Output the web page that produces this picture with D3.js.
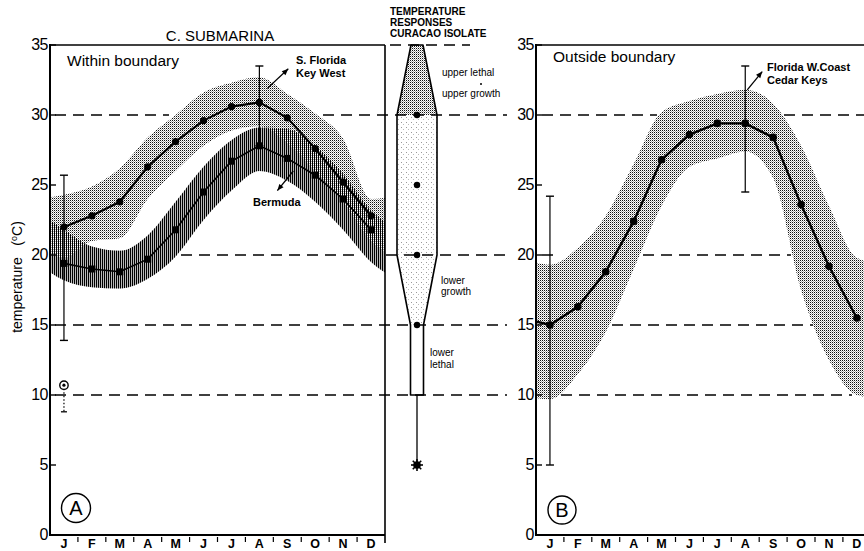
<!DOCTYPE html>
<html>
<head>
<meta charset="utf-8">
<script src="https://cdn.jsdelivr.net/npm/d3@7"></script>
<style>
  body { margin: 0; background: #fff; }
  svg { font-family: "Liberation Sans", Arial, sans-serif; }
</style>
</head>
<body>
<div id="chart"></div>
<script>
////////////////////////////////////////////////////////////////
/////  data (deg C, monthly)  /////////////
////////////////////////////////////////////////////////////////

var months = ['J','F','M','A','M','J','J','A','S','O','N','D']

// panel A, S. Florida / Key West (circles) and its range band
var keyWest   = [22.0, 22.8, 23.8, 26.3, 28.1, 29.6, 30.6, 30.9, 29.8, 27.6, 25.2, 22.8]
var keyWestHi = [24.3, 24.9, 26.2, 28.4, 30.0, 31.6, 32.3, 32.7, 31.5, 30.1, 28.3, 24.0]
var keyWestLo = [19.8, 21.0, 21.2, 24.0, 26.0, 27.8, 28.9, 29.2, 28.0, 26.0, 23.8, 21.0]

// panel A, Bermuda (squares) and its hatched band
var bermuda   = [19.4, 19.0, 18.8, 19.7, 21.8, 24.5, 26.7, 27.8, 26.9, 25.7, 24.0, 21.8]
var bermudaHi = [21.8, 20.6, 20.3, 21.4, 23.8, 26.3, 28.2, 29.1, 29.0, 27.8, 25.8, 23.2]
var bermudaLo = [18.2, 17.7, 17.6, 18.3, 19.9, 22.5, 24.6, 26.0, 25.3, 23.8, 21.8, 19.5]

// panel B, Florida W. Coast / Cedar Keys
var cedarKeys   = [15.0, 16.3, 18.8, 22.4, 26.8, 28.6, 29.4, 29.4, 28.4, 23.6, 19.2, 15.5]
var cedarKeysHi = [19.3, 20.5, 22.8, 26.5, 30.2, 31.0, 31.5, 31.8, 30.8, 27.8, 23.5, 19.8]
var cedarKeysLo = [ 9.7, 11.5, 14.5, 19.0, 23.5, 26.3, 26.9, 27.4, 25.5, 17.5, 12.5, 10.0]

// extreme ranges [month index, max, min]
var rangesA = [[0, 25.7, 13.9], [7, 33.5, 27.8]]
var rangesB = [[0, 24.2, 5.0], [7, 33.5, 24.5]]
var coldRecord = [0, 10.7, 8.8]   // circled point + dotted bar, panel A

// temperature responses, Curacao isolate
var upperLethal = 35, upperGrowth = 30, lowerGrowth = 20, lowerLethal = 15, tolFloor = 10, coldDeath = 5
var curacaoDots = [30, 25, 20, 15]

var yTicks = [0, 5, 10, 15, 20, 25, 30, 35]
var refLines = [30, 20, 15, 10]

////////////////////////////////////////////////////////////////

var W = 864, H = 551
var svg = d3.select('#chart').append('svg').attr('width', W).attr('height', H)
var defs = svg.append('defs')

// stipple (light band)
var p1 = defs.append('pattern').attr('id', 'stip').attr('patternUnits', 'userSpaceOnUse')
  .attr('width', 2).attr('height', 2)
p1.append('rect').attr('width', 2).attr('height', 2).attr('fill', '#fff')
p1.append('rect').attr('width', 1).attr('height', 1).attr('fill', '#111')
p1.append('rect').attr('x', 1).attr('y', 1).attr('width', 1).attr('height', 1).attr('fill', '#aaa')
// vertical hatch (bermuda)
var p2 = defs.append('pattern').attr('id', 'hatch').attr('patternUnits', 'userSpaceOnUse')
  .attr('width', 2).attr('height', 4)
p2.append('rect').attr('width', 1).attr('height', 4).attr('fill', '#000')
// sparse speckle (spindle middle)
var p3 = defs.append('pattern').attr('id', 'speck').attr('patternUnits', 'userSpaceOnUse')
  .attr('width', 5).attr('height', 5)
p3.append('rect').attr('width', 5).attr('height', 5).attr('fill', '#fff')
p3.append('rect').attr('x', 1).attr('y', 2).attr('width', 1).attr('height', 1).attr('fill', '#999')
p3.append('rect').attr('x', 3).attr('y', 4).attr('width', 1).attr('height', 1).attr('fill', '#bbb')

var y = d3.scaleLinear().domain([0, 35]).range([535, 45])
var xA = d3.scaleBand().domain(d3.range(12)).range([50, 385])
var xB = d3.scaleBand().domain(d3.range(12)).range([536, 536 + 12 * 27.9])
var cA = function(i) { return xA(0) + xA.step() * (i + 0.5) }  // also works for wrap indices -1, 12
var cB = function(i) { return xB(0) + xB.step() * (i + 0.5) }

defs.append('clipPath').attr('id', 'clipA').append('rect')
  .attr('x', 50).attr('y', 45).attr('width', 335).attr('height', 490)
defs.append('clipPath').attr('id', 'clipB').append('rect')
  .attr('x', 536).attr('y', 44).attr('width', 340).attr('height', 491)

// wrap the year so bands run to the panel edges
wrap = function(arr) {
  var out = [{i: -1, v: arr[11]}]
  arr.forEach(function(v, i) { out.push({i: i, v: v}) })
  out.push({i: 12, v: arr[0]})
  return out
}
bandData = function(hi, lo) {
  var h = wrap(hi), l = wrap(lo)
  return h.map(function(d, k) { return {i: d.i, hi: d.v, lo: l[k].v} })
}

var areaA = d3.area().curve(d3.curveMonotoneX)
  .x(function(d) { return cA(d.i) }).y0(function(d) { return y(d.lo) }).y1(function(d) { return y(d.hi) })
var areaB = d3.area().curve(d3.curveMonotoneX)
  .x(function(d) { return cB(d.i) }).y0(function(d) { return y(d.lo) }).y1(function(d) { return y(d.hi) })
var bBand = bandData(bermudaHi, bermudaLo)
var kBand = bandData(keyWestHi, keyWestLo)
var cBand = bandData(cedarKeysHi, cedarKeysLo)

/////////////////////  middle column: spindle  /////////////////////
var cx = 417
var spindle = svg.append('g')
var topPoly = [[cx - 6, y(upperLethal)], [cx - 20, y(upperGrowth)], [cx + 20, y(upperGrowth)], [cx + 6, y(upperLethal)]]
var midPoly = [[cx - 20, y(upperGrowth)], [cx - 20, y(lowerGrowth)], [cx - 6.5, y(lowerLethal)],
               [cx + 6.5, y(lowerLethal)], [cx + 20, y(lowerGrowth)], [cx + 20, y(upperGrowth)]]
var lowPoly = [[cx - 6.5, y(lowerLethal)], [cx - 6.5, y(tolFloor)], [cx + 6.5, y(tolFloor)], [cx + 6.5, y(lowerLethal)]]
spindle.append('path').attr('d', 'M' + topPoly.join('L') + 'Z').attr('fill', 'url(#stip)')
spindle.append('path').attr('d', 'M' + midPoly.join('L') + 'Z').attr('fill', 'url(#speck)')
spindle.append('path').attr('d', 'M' + lowPoly.join('L') + 'Z').attr('fill', '#fff')
var outline = [[cx - 6, y(upperLethal)], [cx - 20, y(upperGrowth)], [cx - 20, y(lowerGrowth)], [cx - 6.5, y(lowerLethal)],
  [cx - 6.5, y(tolFloor)], [cx + 6.5, y(tolFloor)], [cx + 6.5, y(lowerLethal)], [cx + 20, y(lowerGrowth)],
  [cx + 20, y(upperGrowth)], [cx + 6, y(upperLethal)]]
spindle.append('path').attr('d', 'M' + outline.join('L') + 'Z')
  .attr('fill', 'none').attr('stroke', '#000').attr('stroke-width', 1.6).attr('stroke-linejoin', 'round')
spindle.append('line').attr('x1', cx).attr('x2', cx).attr('y1', y(tolFloor)).attr('y2', y(coldDeath))
  .attr('stroke', '#000').attr('stroke-width', 1.3)
spindle.selectAll('circle.dot').data(curacaoDots).enter().append('circle')
  .attr('cx', cx).attr('cy', function(d) { return y(d) }).attr('r', 3.2).attr('fill', '#000')
// cold death burst
spindle.append('circle').attr('cx', cx).attr('cy', y(coldDeath)).attr('r', 3.8).attr('fill', '#000')
d3.range(8).forEach(function(k) {
  var a = k * Math.PI / 4
  spindle.append('line').attr('x1', cx).attr('y1', y(coldDeath))
    .attr('x2', cx + 6 * Math.cos(a)).attr('y2', y(coldDeath) + 6 * Math.sin(a))
    .attr('stroke', '#000').attr('stroke-width', 1.6)
})

/////////////////////  panel bands  /////////////////////
var gA = svg.append('g').attr('clip-path', 'url(#clipA)')
gA.append('path').attr('d', areaA(kBand)).attr('fill', '#fff')
gA.append('path').attr('d', areaA(bBand)).attr('fill', '#b8b8b8')
gA.append('path').attr('d', areaA(kBand)).attr('fill', 'url(#stip)')
gA.append('path').attr('d', areaA(bBand)).attr('fill', 'url(#hatch)')

var gB = svg.append('g').attr('clip-path', 'url(#clipB)')
gB.append('path').attr('d', areaB(cBand)).attr('fill', '#fff')
gB.append('path').attr('d', areaB(cBand)).attr('fill', 'url(#stip)')

/////////////////////  dashed reference lines  /////////////////////
// dashes are only drawn where no band lies (strokes end up above fills here)
var interp = function(band, cfn, key, x) {
  for (var k = 0; k < band.length - 1; k++) {
    var xa = cfn(band[k].i), xb = cfn(band[k + 1].i)
    if (x >= xa && x <= xb) return band[k][key] + (band[k + 1][key] - band[k][key]) * (x - xa) / (xb - xa)
  }
  return null
}
var covered = function(band, cfn, x, t) {
  var hi = interp(band, cfn, 'hi', x), lo = interp(band, cfn, 'lo', x)
  return hi != null && t <= hi + 0.35 && t >= lo - 0.35
}
var dashes = svg.append('g').attr('stroke', '#000').attr('stroke-width', 1.5).attr('stroke-dasharray', '11,7')
var runs = function(t, xs, xe, test) {
  var start = null
  for (var x = xs; x <= xe; x++) {
    var free = !test(x)
    if (free && start === null) start = x
    if ((!free || x === xe) && start !== null) {
      var end = free ? x : x - 1
      if (end - start > 2) {
        dashes.append('line').attr('x1', start).attr('x2', end).attr('y1', y(t)).attr('y2', y(t))
      }
      start = null
    }
  }
}
refLines.forEach(function(t) {
  runs(t, 55, 507, function(x) {
    if (x > 385) return false
    return covered(kBand, cA, x, t) || covered(bBand, cA, x, t)
  })
  runs(t, 542, W, function(x) { return covered(cBand, cB, x, t) })
})
dashes.append('line').attr('x1', 390).attr('x2', 470).attr('y1', y(upperLethal)).attr('y2', y(upperLethal))

/////////////////////  panel A lines  /////////////////////
var lineA = d3.line().x(function(d, i) { return cA(i) }).y(function(d) { return y(d) })
var gA2 = svg.append('g').attr('clip-path', 'url(#clipA)')
gA2.append('path').attr('d', lineA(bermuda)).attr('fill', 'none').attr('stroke', '#000').attr('stroke-width', 1.6)
gA2.append('path').attr('d', lineA(keyWest)).attr('fill', 'none').attr('stroke', '#000').attr('stroke-width', 2.2)
gA2.selectAll('rect.sq').data(bermuda).enter().append('rect')
  .attr('x', function(d, i) { return cA(i) - 3.5 }).attr('y', function(d) { return y(d) - 3.5 })
  .attr('width', 7).attr('height', 7).attr('fill', '#000')
gA2.selectAll('circle.kw').data(keyWest).enter().append('circle')
  .attr('cx', function(d, i) { return cA(i) }).attr('cy', function(d) { return y(d) })
  .attr('r', 3.6).attr('fill', '#000')

// range bars
drawRange = function(g, cx_, r) {
  var x = cx_(r[0])
  g.append('line').attr('x1', x).attr('x2', x).attr('y1', y(r[1])).attr('y2', y(r[2]))
    .attr('stroke', '#000').attr('stroke-width', 1.2)
  ;[r[1], r[2]].forEach(function(v) {
    g.append('line').attr('x1', x - 4).attr('x2', x + 4).attr('y1', y(v)).attr('y2', y(v))
      .attr('stroke', '#000').attr('stroke-width', 1.4)
  })
}
rangesA.forEach(function(r) { drawRange(svg, cA, r) })

// cold record, circled with dotted bar
var xc = cA(coldRecord[0])
svg.append('line').attr('x1', xc).attr('x2', xc).attr('y1', y(coldRecord[1])).attr('y2', y(coldRecord[2]))
  .attr('stroke', '#000').attr('stroke-width', 1.2).attr('stroke-dasharray', '1.5,2')
svg.append('line').attr('x1', xc - 3).attr('x2', xc + 3).attr('y1', y(coldRecord[2])).attr('y2', y(coldRecord[2]))
  .attr('stroke', '#000').attr('stroke-width', 1.3)
svg.append('circle').attr('cx', xc).attr('cy', y(coldRecord[1])).attr('r', 4.2)
  .attr('fill', '#fff').attr('stroke', '#000').attr('stroke-width', 1.4)
svg.append('circle').attr('cx', xc).attr('cy', y(coldRecord[1])).attr('r', 1.6).attr('fill', '#000')

/////////////////////  panel B lines  /////////////////////
var gB2 = svg.append('g').attr('clip-path', 'url(#clipB)')
var cedarWrap = wrap(cedarKeys).slice(0, 13)
gB2.append('path').attr('d', d3.line().x(function(d) { return cB(d.i) }).y(function(d) { return y(d.v) })(cedarWrap))
  .attr('fill', 'none').attr('stroke', '#000').attr('stroke-width', 2.4)
gB2.selectAll('circle.ck').data(cedarKeys).enter().append('circle')
  .attr('cx', function(d, i) { return cB(i) }).attr('cy', function(d) { return y(d) })
  .attr('r', 3.8).attr('fill', '#000')
rangesB.forEach(function(r) { drawRange(svg, cB, r) })

/////////////////////  axes and frames  /////////////////////
drawAxes = function(x0, x1, scaleX, boxed) {
  var g = svg.append('g')
  g.append('line').attr('x1', x0).attr('x2', x0).attr('y1', y(35) - 1).attr('y2', y(0) + 1)
    .attr('stroke', '#000').attr('stroke-width', 2)
  g.append('line').attr('x1', x0).attr('x2', x1).attr('y1', y(0)).attr('y2', y(0))
    .attr('stroke', '#000').attr('stroke-width', 2)
  g.append('line').attr('x1', x0).attr('x2', x1).attr('y1', y(35)).attr('y2', y(35))
    .attr('stroke', '#000').attr('stroke-width', 1.6)
  if (boxed) {
    g.append('line').attr('x1', x1).attr('x2', x1).attr('y1', y(35)).attr('y2', y(0) + 8)
      .attr('stroke', '#000').attr('stroke-width', 1.6)
  }
  yTicks.forEach(function(t) {
    g.append('line').attr('x1', x0).attr('x2', x0 + 6).attr('y1', y(t)).attr('y2', y(t))
      .attr('stroke', '#000').attr('stroke-width', 1.4)
    g.append('text').attr('x', x0 - 2).attr('y', y(t)).attr('dy', '0.33em')
      .attr('text-anchor', 'end').attr('font-size', 16).attr('letter-spacing', -0.5).text(t)
  })
  // month boundary ticks and labels
  d3.range(1, 12).forEach(function(k) {
    var xb = scaleX(k)
    g.append('line').attr('x1', xb).attr('x2', xb).attr('y1', y(0) + 2).attr('y2', y(0) + 7)
      .attr('stroke', '#000').attr('stroke-width', 1.2)
  })
  months.forEach(function(m, k) {
    g.append('text').attr('x', scaleX(k) + scaleX.bandwidth() / 2).attr('y', y(0) + 13)
      .attr('text-anchor', 'middle').attr('font-size', 12.5).attr('font-weight', 'bold').text(m)
  })
}
drawAxes(50, 385, xA, true)
drawAxes(536, W, xB, false)

/////////////////////  text and annotations  /////////////////////
var txt = function(x, yy, s, size, weight, anchor) {
  return svg.append('text').attr('x', x).attr('y', yy).attr('font-size', size)
    .attr('font-weight', weight || 'normal').attr('text-anchor', anchor || 'start').text(s)
}
txt(220, 41, 'C. SUBMARINA', 15, 'normal', 'middle')
txt(67, 66, 'Within boundary', 15.5)
txt(553, 62, 'Outside boundary', 15.5)
txt(296, 64, 'S. Florida', 11, 'bold')
txt(296, 77, 'Key West', 11, 'bold')
txt(253, 206, 'Bermuda', 11, 'bold')
txt(767, 71, 'Florida W.Coast', 11, 'bold')
txt(767, 84, 'Cedar Keys', 11, 'bold')

txt(390, 15, 'TEMPERATURE', 10, 'bold')
txt(390, 26, 'RESPONSES', 10, 'bold')
txt(390, 37, 'CURACAO  ISOLATE', 10, 'bold')
txt(442, 76, 'upper lethal', 10)
svg.append('circle').attr('cx', 481).attr('cy', 84).attr('r', 1).attr('fill', '#000')
txt(442, 97, 'upper growth', 10)
txt(441, 284, 'lower', 10)
txt(441, 295, 'growth', 10)
txt(430, 356, 'lower', 10)
txt(430, 368, 'lethal', 10)

svg.append('text').attr('transform', 'translate(22,277) rotate(-90)')
  .attr('text-anchor', 'middle').attr('font-size', 14)
  .html('temperature &#160;&#160;(<tspan dy="-5" font-size="9">o</tspan><tspan dy="5">C)</tspan>')

// arrows
var arrow = function(x1, y1, x2, y2) {
  svg.append('line').attr('x1', x1).attr('y1', y1).attr('x2', x2).attr('y2', y2)
    .attr('stroke', '#000').attr('stroke-width', 1.3)
  var a = Math.atan2(y2 - y1, x2 - x1), L = 7, s = 0.4
  var pts = [[x2, y2], [x2 - L * Math.cos(a - s), y2 - L * Math.sin(a - s)], [x2 - L * Math.cos(a + s), y2 - L * Math.sin(a + s)]]
  svg.append('path').attr('d', 'M' + pts.join('L') + 'Z').attr('fill', '#000')
}
arrow(cA(7) + 8, y(31.9), cA(8) + 1, y(33.3))
arrow(cA(8) + 6, y(26.0), cA(7) + 18, y(24.6))
arrow(cB(7) + 2, y(31.8), cB(7) + 17, y(33.1))

// circled panel letters
svg.append('circle').attr('cx', 76).attr('cy', 508).attr('r', 14.5).attr('fill', 'none').attr('stroke', '#000').attr('stroke-width', 1.4)
txt(76, 515, 'A', 20, 'normal', 'middle')
svg.append('circle').attr('cx', 562).attr('cy', 510).attr('r', 14).attr('fill', 'none').attr('stroke', '#000').attr('stroke-width', 1.4)
txt(562, 517, 'B', 20, 'normal', 'middle')
</script>
</body>
</html>
